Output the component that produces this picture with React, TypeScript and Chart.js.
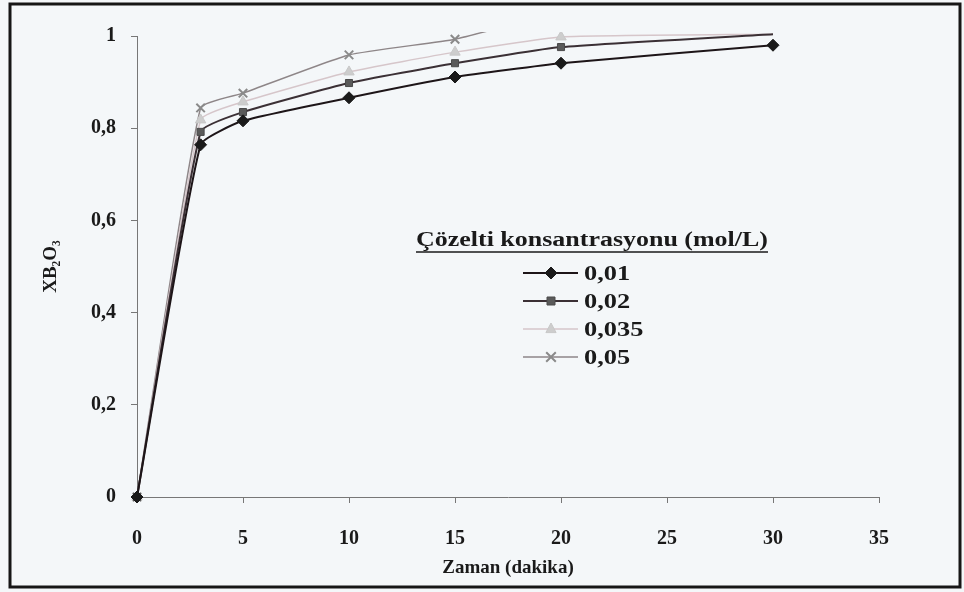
import React, { useEffect, useRef } from "react";
import { Chart, registerables } from "chart.js";

Chart.register(...registerables);

// ---- data ----
const times = [0, 3, 5, 10, 15, 20, 30];
const seriesLabels = ["0,01", "0,02", "0,035", "0,05"];
const s001 = [0, 0.764, 0.816, 0.866, 0.911, 0.941, 0.98];
const s002 = [0, 0.792, 0.835, 0.898, 0.941, 0.976, 1.004];
const s0035 = [0, 0.818, 0.857, 0.922, 0.965, 0.998, 1.004];
const s005 = [0, 0.844, 0.876, 0.959, 0.993, 1.05, 1.08];
const xTicks = [0, 5, 10, 15, 20, 25, 30, 35];
const yTicks = [0, 0.2, 0.4, 0.6, 0.8, 1];

const SERIF = "'Liberation Serif', 'Times New Roman', serif";
const BG = "#f4f7f9";

const styles = [
  { line: "#1d1518", fill: "#1a1a1a", stroke: "#1a1a1a", shape: "diamond", r: 6, lw: 2 },
  { line: "#3b3035", fill: "#5a5a5a", stroke: "#4a4a4a", shape: "square", r: 5, lw: 2 },
  { line: "#d6c6ca", fill: "#cdcdcd", stroke: "#c8c8c8", shape: "triangle", r: 6, lw: 1.5 },
  { line: "#8e8688", fill: "#8a8a8a", stroke: "#8a8a8a", shape: "x", r: 6, lw: 1.5 },
];

const pointStyleMap: Record<string, string> = {
  diamond: "rectRot",
  square: "rect",
  triangle: "triangle",
  x: "crossRot",
};

function drawMarker(ctx: CanvasRenderingContext2D, shape: string, x: number, y: number, r: number, fill: string, stroke: string) {
  ctx.save();
  ctx.fillStyle = fill;
  ctx.strokeStyle = stroke;
  ctx.lineWidth = 1;
  ctx.beginPath();
  if (shape === "diamond") {
    ctx.moveTo(x, y - r);
    ctx.lineTo(x + r, y);
    ctx.lineTo(x, y + r);
    ctx.lineTo(x - r, y);
    ctx.closePath();
    ctx.fill();
    ctx.stroke();
  } else if (shape === "square") {
    const h = r * 0.8;
    ctx.rect(x - h, y - h, 2 * h, 2 * h);
    ctx.fill();
    ctx.stroke();
  } else if (shape === "triangle") {
    ctx.moveTo(x, y - r);
    ctx.lineTo(x + r * 0.85, y + r * 0.6);
    ctx.lineTo(x - r * 0.85, y + r * 0.6);
    ctx.closePath();
    ctx.fill();
    ctx.stroke();
  } else {
    ctx.lineWidth = 2;
    const h = r * 0.8;
    ctx.moveTo(x - h, y - h);
    ctx.lineTo(x + h, y + h);
    ctx.moveTo(x + h, y - h);
    ctx.lineTo(x - h, y + h);
    ctx.stroke();
  }
  ctx.restore();
}

function stretchedText(ctx: CanvasRenderingContext2D, text: string, x: number, y: number, sx: number) {
  ctx.save();
  ctx.translate(x, y);
  ctx.scale(sx, 1);
  ctx.fillText(text, 0, 0);
  ctx.restore();
}

const decorPlugin = {
  id: "decor",
  beforeDraw(chart: any) {
    const ctx = chart.ctx as CanvasRenderingContext2D;
    ctx.save();
    ctx.fillStyle = BG;
    ctx.fillRect(0, 0, chart.width, chart.height);
    ctx.strokeStyle = "#161616";
    ctx.lineWidth = 3;
    ctx.strokeRect(10, 4, 950, 583);
    ctx.restore();
  },
  afterDraw(chart: any) {
    const ctx = chart.ctx as CanvasRenderingContext2D;
    ctx.save();
    // legend title
    const title = "Çözelti konsantrasyonu (mol/L)";
    ctx.font = `bold 20px ${SERIF}`;
    ctx.fillStyle = "#1a1a1a";
    ctx.textBaseline = "alphabetic";
    ctx.textAlign = "left";
    const targetW = 352;
    const baseW = ctx.measureText(title).width;
    const tx = 416;
    const ty = 246;
    stretchedText(ctx, title, tx, ty, targetW / baseW);
    ctx.strokeStyle = "#1a1a1a";
    ctx.lineWidth = 1.5;
    ctx.beginPath();
    ctx.moveTo(tx, ty + 6);
    ctx.lineTo(tx + targetW, ty + 6);
    ctx.stroke();

    // entries
    const rows = [273, 301, 329, 357];
    ctx.font = `bold 22px ${SERIF}`;
    ctx.textBaseline = "middle";
    chart.data.datasets.forEach((ds: any, i: number) => {
      const st = styles[i];
      const y = rows[i];
      ctx.strokeStyle = st.line;
      ctx.lineWidth = st.lw;
      ctx.beginPath();
      ctx.moveTo(523, y);
      ctx.lineTo(578, y);
      ctx.stroke();
      drawMarker(ctx, st.shape, 551, y, st.r, st.fill, st.stroke);
      ctx.fillStyle = "#1a1a1a";
      stretchedText(ctx, ds.label, 584, y + 1, 1.2);
    });
    ctx.restore();
  },
};

function fmt(v: number) {
  return Number(v.toFixed(1)).toString().replace(".", ",");
}

export default function App() {
  const ref = useRef<HTMLCanvasElement | null>(null);

  useEffect(() => {
    if (!ref.current) return;
    const all = [s001, s002, s0035, s005];
    const datasets = all.map((vals, i) => {
      const st = styles[i];
      return {
        label: seriesLabels[i],
        data: times.map((t, k) => ({ x: t, y: vals[k] })),
        borderColor: st.line,
        borderWidth: st.lw,
        backgroundColor: st.fill,
        pointStyle: pointStyleMap[st.shape],
        pointBackgroundColor: st.fill,
        pointBorderColor: st.stroke,
        pointBorderWidth: st.shape === "x" ? 2 : 1,
        pointRadius: (c: any) => (c.raw && c.raw.y > 1 ? 0 : st.r),
        tension: 0.15,
        fill: false,
        clip: { left: 10, top: 4, right: 10, bottom: 10 },
      };
    });

    const chart = new Chart(ref.current, {
      type: "line",
      data: { datasets },
      options: {
        responsive: false,
        animation: false,
        devicePixelRatio: 1,
        layout: { padding: { left: 0, right: 85, top: 36, bottom: 0 } },
        plugins: { legend: { display: false }, tooltip: { enabled: false } },
        scales: {
          x: {
            type: "linear",
            min: 0,
            max: 35,
            afterFit: (s: any) => {
              s.height = 95;
            },
            afterBuildTicks: (s: any) => {
              s.ticks = xTicks.map((v) => ({ value: v }));
            },
            ticks: {
              padding: 24,
              color: "#1a1a1a",
              font: { family: SERIF, size: 20, weight: "bold" },
              maxRotation: 0,
              callback: (v: any) => String(v),
            },
            grid: { drawOnChartArea: false, drawTicks: true, tickLength: 6, color: "#777" },
            border: { color: "#777", width: 1 },
            title: {
              display: true,
              text: "Zaman (dakika)",
              color: "#1a1a1a",
              font: { family: SERIF, size: 19, weight: "bold" },
              padding: { top: 0, bottom: 13 },
            },
          },
          y: {
            type: "linear",
            min: 0,
            max: 1,
            afterFit: (s: any) => {
              s.width = 137;
            },
            afterBuildTicks: (s: any) => {
              s.ticks = yTicks.map((v) => ({ value: v }));
            },
            ticks: {
              padding: 15,
              color: "#1a1a1a",
              font: { family: SERIF, size: 20, weight: "bold" },
              callback: (v: any) => fmt(Number(v)),
            },
            grid: { drawOnChartArea: false, drawTicks: true, tickLength: 6, color: "#777" },
            border: { color: "#777", width: 1 },
            title: {
              display: true,
              text: "XB₂O₃",
              color: "#1a1a1a",
              font: { family: SERIF, size: 19, weight: "bold" },
              padding: { top: 40, bottom: 0 },
            },
          },
        },
      },
      plugins: [decorPlugin],
    } as any);
    return () => chart.destroy();
  }, []);

  return (
    <div style={{ position: "fixed", left: 0, top: 0, width: 964, height: 592, background: BG }}>
      <canvas ref={ref} width={964} height={592} style={{ width: 964, height: 592, display: "block" }} />
    </div>
  );
}
